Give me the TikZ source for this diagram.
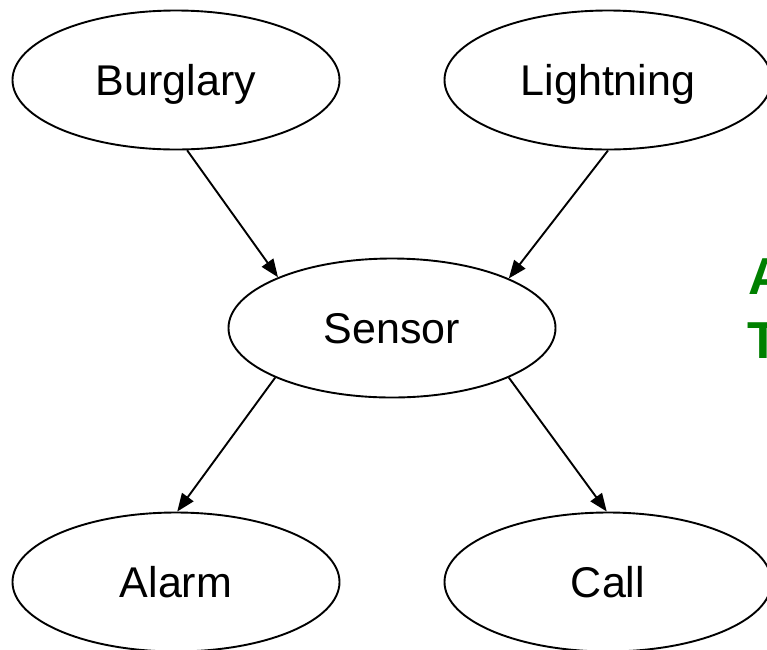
\documentclass[tikz,border=0pt]{standalone}
\usepackage{fontspec}
\setmainfont{Liberation Sans}
\usetikzlibrary{arrows.meta,shapes.geometric}
\definecolor{notegreen}{RGB}{0,128,0}
\begin{document}
\begin{tikzpicture}[x=1pt,y=-1pt,
  var/.style={ellipse, draw, line width=1.9pt, minimum width=327pt,
    minimum height=139pt, inner sep=0pt,
    font=\fontsize{43}{50}\selectfont, text height=30.8pt, text depth=0pt},
  edge/.style={-{Triangle[length=18pt,width=14pt]}, line width=1.9pt},
  note/.style={anchor=base west, inner sep=0pt, text=notegreen,
    font=\fontsize{52}{60}\selectfont\bfseries}]
\useasboundingbox (0,0) rectangle (767,649);

% network variables
\node[var] (B) at (176,80)  {Burglary};
\node[var] (L) at (608,80)  {Lightning};
\node[var] (S) at (392,328) {Sensor};
\node[var] (A) at (176,582) {Alarm};
\node[var] (C) at (608,582) {Call};

% dependencies
\draw[edge] (B.279) -- (S.156);
\draw[edge] (L.270) -- (S.23);
\draw[edge] (S.203.5) -- (A.89);
\draw[edge] (S.337) -- (C.91);

% side note, running past the right edge
\node[note] (n1) at (748,294) {A};
\node[note] (n2) at (747,358) {T};
\end{tikzpicture}
\end{document}
